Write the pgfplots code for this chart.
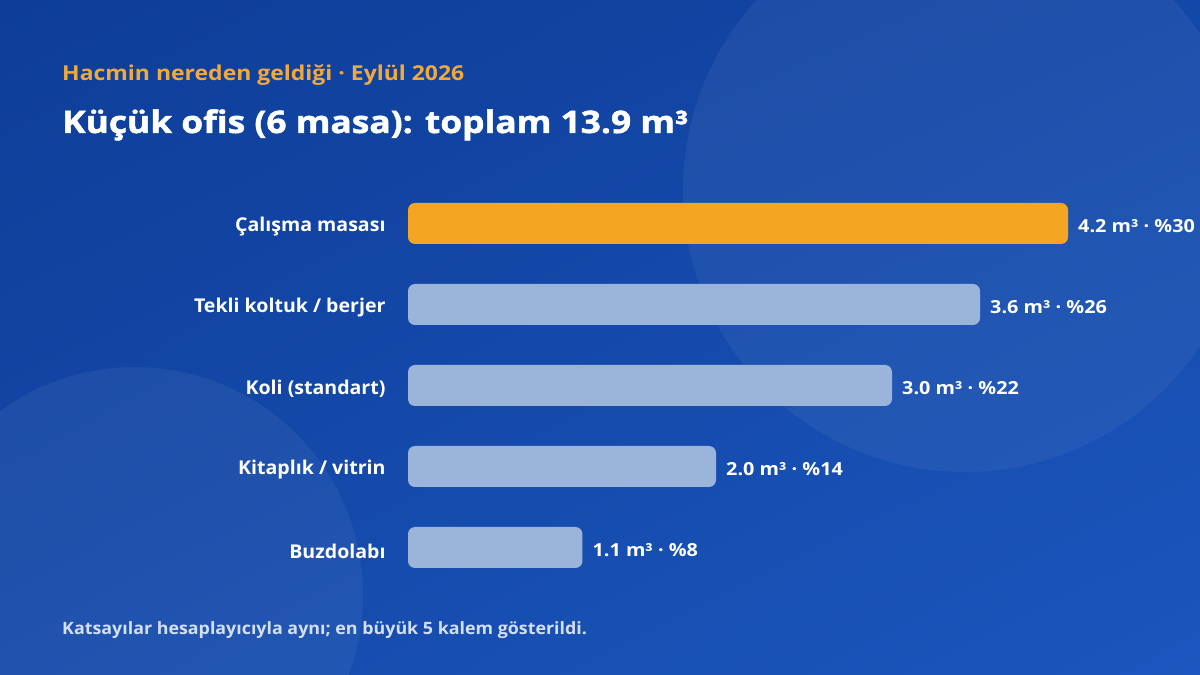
\documentclass[border=0pt]{standalone}
\usepackage{fontspec}
\setmainfont{Open Sans}
\usepackage{pgfplots}
\pgfplotsset{compat=1.18}
\usetikzlibrary{shadings}
\definecolor{bgTL}{HTML}{0D3D98}
\definecolor{bgTR}{HTML}{1448A8}
\definecolor{bgBL}{HTML}{154AAA}
\definecolor{bgBR}{HTML}{1B56BE}
\definecolor{orangeBar}{HTML}{F4A623}
\definecolor{lightBar}{HTML}{9BB4DA}
\definecolor{subOrange}{HTML}{F2A93B}
\definecolor{footText}{HTML}{D3E0F4}
\begin{document}
\begin{tikzpicture}[x=1pt,y=1pt]
\begin{scope}
\clip (0,0) rectangle (1200,675);
\shade[upper left=bgTL, upper right=bgTR, lower left=bgBL, lower right=bgBR] (0,0) rectangle (1200,675);
\fill[white, opacity=0.05] (965,485) circle (282pt);
\fill[white, opacity=0.05] (135,80) circle (228pt);
\end{scope}
\useasboundingbox (0,0) rectangle (1200,675);
\node[anchor=base west, inner sep=0pt, text=subOrange, font=\fontsize{20.5pt}{24pt}\selectfont\bfseries\addfontfeature{FakeStretch=1.12}] at (62,594) {Hacmin nereden geldiği · Eylül 2026};
\node[anchor=base west, inner sep=0pt, text=white, font=\fontsize{31pt}{36pt}\selectfont\bfseries\addfontfeature{FakeStretch=1.14,FakeBold=1.5}] at (62,542) {Küçük ofis (6 masa): toplam 13.9 m³};
\node[anchor=base west, inner sep=0pt, text=footText, font=\fontsize{17pt}{20pt}\selectfont\bfseries\addfontfeature{FakeStretch=1.05}] at (62,40) {Katsayılar hesaplayıcıyla aynı; en büyük 5 kalem gösterildi.};
\begin{axis}[at={(408pt,87pt)}, anchor=south west, scale only axis,
  width=660pt, height=405pt, xmin=0, xmax=4.2, ymin=-0.5, ymax=4.5,
  xbar, bar width=41pt, bar shift=0pt,
  axis line style={draw=none}, tick style={draw=none},
  xtick=\empty, ytick={0,1,2,3,4},
  yticklabels={Buzdolabı, Kitaplık / vitrin, Koli (standart), Tekli koltuk / berjer, Çalışma masası},
  yticklabel style={font=\fontsize{19pt}{23pt}\selectfont\bfseries\addfontfeature{FakeStretch=1.03}, text=white, anchor=east, inner sep=0pt, xshift=-18pt, yshift=-3.5pt},
  point meta=explicit symbolic, nodes near coords,
  nodes near coords style={font=\fontsize{18pt}{20pt}\selectfont\bfseries\addfontfeature{FakeStretch=1.1}, text=white, anchor=west, inner sep=0pt, xshift=10pt, yshift=-2.5pt},
  clip=false]
\addplot[draw=none, fill=orangeBar, rounded corners=7pt] coordinates {(4.2,4) [4.2 m³ · \%30]};
\addplot[draw=none, fill=lightBar, rounded corners=7pt] coordinates {
 (3.64,3) [3.6 m³ · \%26]
 (3.08,2) [3.0 m³ · \%22]
 (1.96,1) [2.0 m³ · \%14]
 (1.11,0) [1.1 m³ · \%8]
};
\end{axis}
\end{tikzpicture}
\end{document}
